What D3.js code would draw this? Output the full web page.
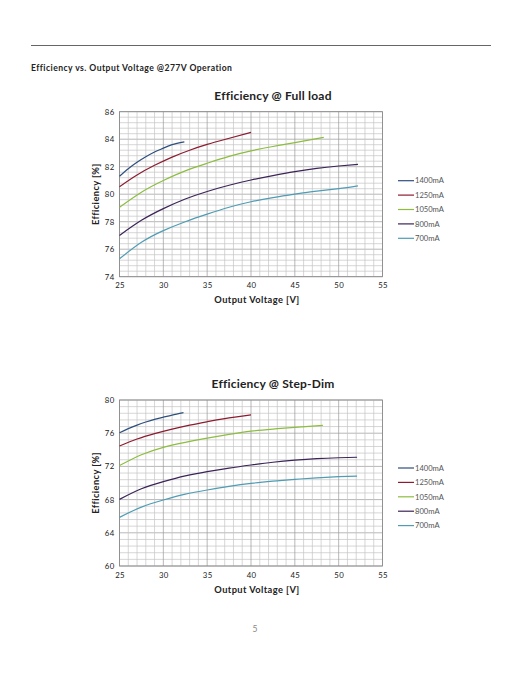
<!DOCTYPE html>
<html><head><meta charset="utf-8">
<script src="https://cdn.jsdelivr.net/npm/d3@7"></script>
<style>body{margin:0;background:#fff}svg{display:block}text{font-family:Lato,"Open Sans",sans-serif}</style>
</head><body>
<svg id="c" width="522" height="676"></svg>
<script>
const seriesNames = ["1400mA","1250mA","1050mA","800mA","700mA"];
const seriesColors = ["#2e4f7e","#8b1c30","#8cbd3f","#3b2457","#4f9cb4"];
const xTicks = [25,30,35,40,45,50,55];
// Full load
const fullV = [
  [25,26,27,28,29,30,31,32.4],
  [25,27,29,31,33,35,37,40],
  [25,27.5,30,32.5,35,37.5,40,42.5,45,48.3],
  [25,27.5,30,32.5,35,37.5,40,42.5,45,47.5,50,52.2],
  [25,27.5,30,32.5,35,37.5,40,42.5,45,47.5,50,52.2]
];
const fullE = [
  [81.3,81.85,82.32,82.72,83.07,83.35,83.6,83.8],
  [80.55,81.4,82.1,82.7,83.2,83.62,83.98,84.5],
  [79.05,80.15,81.0,81.7,82.25,82.75,83.15,83.47,83.75,84.13],
  [77.0,78.1,78.95,79.65,80.2,80.65,81.03,81.35,81.64,81.88,82.05,82.17],
  [75.3,76.5,77.35,78.0,78.55,79.05,79.45,79.75,80.0,80.22,80.4,80.6]
];
// Step-Dim
const dimV = [
  [25,26,27,28,29,30,31,32.3],
  [25,27,29,31,33,35,37,40],
  [25,27.5,30,32.5,35,37.5,40,42.5,45,48.2],
  [25,27.5,30,32.5,35,37.5,40,42.5,45,47.5,50,52.1],
  [25,27.5,30,32.5,35,37.5,40,42.5,45,47.5,50,52.1]
];
const dimE = [
  [76.06,76.55,76.98,77.35,77.67,77.93,78.18,78.47],
  [74.46,75.3,75.95,76.5,76.97,77.38,77.75,78.2],
  [72.1,73.4,74.3,74.9,75.4,75.85,76.25,76.5,76.7,76.95],
  [68.03,69.3,70.16,70.85,71.37,71.8,72.17,72.5,72.75,72.93,73.04,73.1],
  [65.86,67.1,67.95,68.65,69.16,69.6,69.96,70.22,70.44,70.62,70.76,70.84]
];
const fullTicks = [74,76,78,80,82,84,86];
const dimTicks = [60,64,68,72,76,80];

const svg = d3.select("#c");
svg.append("line").attr("x1",31).attr("x2",491).attr("y1",45.5).attr("y2",45.5).attr("stroke","#666").attr("stroke-width",1);
svg.append("text").attr("x",31).attr("y",70.5).attr("font-size",8.6).attr("font-weight",700).attr("letter-spacing",0.45).attr("fill","#222")
  .text("Efficiency vs. Output Voltage @277V Operation");
svg.append("text").attr("x",255).attr("y",632).attr("text-anchor","middle").attr("font-size",8.5).attr("fill","#888").text("5");

function chart(opt){
  const g = svg.append("g");
  const x = d3.scaleLinear().domain([25,55]).range([119.5,382.5]);
  const y = d3.scaleLinear().domain(opt.domain).range([opt.bottom,opt.top]);
  const [lo,hi] = opt.domain;
  const nY = Math.round((hi-lo)/opt.minor);
  for(let i=0;i<=nY;i++){
    const v = lo+i*opt.minor;
    const major = Math.abs((v-lo)/opt.major - Math.round((v-lo)/opt.major))<1e-6;
    g.append("line").attr("x1",x(25)).attr("x2",x(55)).attr("y1",y(v)).attr("y2",y(v))
      .attr("stroke",major?"#9a9a9a":"#c4c4c4").attr("stroke-width",0.7);
  }
  for(let v=25;v<=55;v++){
    g.append("line").attr("x1",x(v)).attr("x2",x(v)).attr("y1",y(lo)).attr("y2",y(hi))
      .attr("stroke",v%5===0?"#9a9a9a":"#c4c4c4").attr("stroke-width",0.7);
  }
  g.append("rect").attr("x",x(25)).attr("y",y(hi)).attr("width",x(55)-x(25)).attr("height",y(lo)-y(hi))
    .attr("fill","none").attr("stroke","#888").attr("stroke-width",0.8);
  const xa = g.append("g").attr("transform",`translate(0,${y(lo)})`)
    .call(d3.axisBottom(x).tickValues(xTicks).tickSize(0).tickPadding(6));
  xa.select(".domain").remove();
  xa.selectAll("text").attr("font-size",7.8).attr("fill","#222").attr("letter-spacing",0.3).style("font-family","Lato,sans-serif");
  const ya = g.append("g").attr("transform",`translate(${x(25)},0)`)
    .call(d3.axisLeft(y).tickValues(opt.ticks).tickSize(0).tickPadding(5));
  ya.select(".domain").remove();
  ya.selectAll("text").attr("font-size",7.8).attr("fill","#222").attr("letter-spacing",0.3).style("font-family","Lato,sans-serif");
  g.append("text").attr("x",257).attr("y",opt.xlabY).attr("text-anchor","middle").attr("font-size",9.3).attr("font-weight",700).attr("letter-spacing",0.4).attr("fill","#222").text("Output Voltage [V]");
  g.append("text").attr("transform",`translate(99,${(y(lo)+y(hi))/2}) rotate(-90)`).attr("text-anchor","middle").attr("font-size",9.3).attr("font-weight",700).attr("letter-spacing",0.4).attr("fill","#222").text("Efficiency [%]");
  g.append("text").attr("x",273).attr("y",opt.titleY).attr("text-anchor","middle").attr("font-size",12).attr("font-weight",700).attr("letter-spacing",0.2).attr("fill","#222").text(opt.title);
  const line = d3.line().x(d=>x(d[0])).y(d=>y(d[1])).curve(d3.curveNatural);
  opt.V.forEach((vs,i)=>{
    const pts = vs.map((v,j)=>[v,opt.E[i][j]]);
    g.append("path").attr("d",line(pts)).attr("fill","none").attr("stroke",seriesColors[i]).attr("stroke-width",1.2);
  });
  seriesNames.forEach((n,i)=>{
    const ly = opt.legY + i*14.4;
    g.append("line").attr("x1",398).attr("x2",414).attr("y1",ly).attr("y2",ly).attr("stroke",seriesColors[i]).attr("stroke-width",1.2);
    g.append("text").attr("x",415).attr("y",ly+2.7).attr("font-size",7.6).attr("fill","#555").text(n);
  });
}
chart({domain:[74,86],top:111.7,bottom:276.7,minor:0.4,major:2,ticks:fullTicks,title:"Efficiency @ Full load",titleY:100,xlabY:302.5,legY:180.7,V:fullV,E:fullE});
chart({domain:[60,80],top:400,bottom:566,minor:0.8,major:4,ticks:dimTicks,title:"Efficiency @ Step-Dim",titleY:387.5,xlabY:592.5,legY:468,V:dimV,E:dimE});
</script>
</body></html>
